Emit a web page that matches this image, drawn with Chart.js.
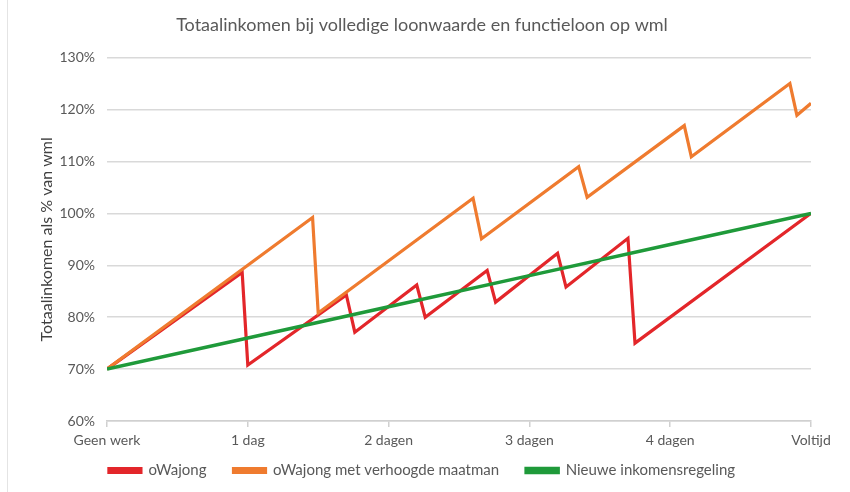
<!DOCTYPE html>
<html>
<head>
<meta charset="utf-8">
<script src="https://cdn.jsdelivr.net/npm/chart.js@4/dist/chart.umd.min.js"></script>
<style>
    html, body { margin: 0; padding: 0; background: #fff; }
    #wrap { position: relative; width: 850px; height: 492px; }
    #edge { position: absolute; left: 7px; top: 0; bottom: 0; border-left: 1px solid #e4e4e4; }
</style>
</head>
<body>
<div id="wrap">
    <div id="edge"></div>
    <canvas id="chart" width="850" height="492"></canvas>
</div>
<script>
const xTickLabels = ["Geen werk", "1 dag", "2 dagen", "3 dagen", "4 dagen", "Voltijd"];

// oWajong
const redX = [0, 0.96, 1.0, 1.70, 1.76, 2.20, 2.26, 2.70, 2.76, 3.20, 3.26, 3.70, 3.75, 5];
const redY = [70, 88.6, 70.8, 84.3, 77.1, 86.2, 80.0, 89.0, 82.9, 92.3, 85.8, 95.2, 75.0, 100];

// oWajong met verhoogde maatman
const orangeX = [0, 1.46, 1.50, 2.60, 2.66, 3.35, 3.41, 4.10, 4.15, 4.85, 4.90, 5];
const orangeY = [70, 99.2, 80.8, 102.9, 95.1, 109.0, 103.1, 116.9, 110.9, 125.0, 118.9, 121.2];

// Nieuwe inkomensregeling
const greenX = [0, 1, 2, 3, 4, 5];
const greenY = [70, 76, 82, 88, 94, 100];

function toPoints(xs, ys) {
    return xs.map((x, i) => ({ x: x, y: ys[i] }));
}

const font = "Lato, 'Open Sans', sans-serif";
const grey = "#595959";

// legend keeps wide gaps between items but takes less height
const legendHeight = {
    id: "legendHeight",
    beforeLayout(chart) {
        const lg = chart.legend;
        if (lg && !lg._short) {
            const fit = lg.fit;
            const draw = lg.draw;
            lg.fit = function() {
                fit.call(this);
                this.height = 43;
            };
            lg.draw = function() {
                const top = this.top;
                this.top = top - 13;
                draw.call(this);
                this.top = top;
            };
            lg._short = true;
        }
    }
};

new Chart(document.getElementById("chart").getContext("2d"), {
    type: "line",
    data: {
        datasets: [
            {
                label: "oWajong",
                data: toPoints(redX, redY),
                borderColor: "#e3262a",
                backgroundColor: "#e3262a",
                borderWidth: 3.2,
                pointRadius: 0,
                order: 3
            },
            {
                label: "oWajong met verhoogde maatman",
                data: toPoints(orangeX, orangeY),
                borderColor: "#ef7b2f",
                backgroundColor: "#ef7b2f",
                borderWidth: 3.2,
                pointRadius: 0,
                order: 2
            },
            {
                label: "Nieuwe inkomensregeling",
                data: toPoints(greenX, greenY),
                borderColor: "#1f9a3a",
                backgroundColor: "#1f9a3a",
                borderWidth: 3.5,
                pointRadius: 0,
                order: 1
            }
        ]
    },
    options: {
        responsive: false,
        animation: false,
        layout: { padding: { left: 33, right: 39, top: 10, bottom: 0 } },
        plugins: {
            title: {
                display: true,
                text: "Totaalinkomen bij volledige loonwaarde en functieloon op wml",
                color: grey,
                font: { family: font, size: 18, weight: "normal" },
                padding: { top: 4, bottom: 22 }
            },
            legend: {
                position: "bottom",
                labels: {
                    color: grey,
                    font: { family: font, size: 15 },
                    boxWidth: 32,
                    boxHeight: 4,
                    padding: 27,
                    sort: (a, b) => a.datasetIndex - b.datasetIndex
                }
            },
            tooltip: { enabled: false }
        },
        scales: {
            x: {
                type: "linear",
                min: 0,
                max: 5,
                afterFit: scale => { scale.height = 28; },
                ticks: {
                    stepSize: 1,
                    color: grey,
                    font: { family: font, size: 14 },
                    padding: 5,
                    maxRotation: 0,
                    callback: v => xTickLabels[v]
                },
                grid: { drawOnChartArea: false, drawTicks: true, tickLength: 6, color: "#d0d0d0", lineWidth: 1.5 },
                border: { color: "#d0d0d0", width: 1.5 }
            },
            y: {
                min: 60,
                max: 130,
                afterFit: scale => { scale.width = 74; },
                ticks: {
                    stepSize: 10,
                    color: grey,
                    font: { family: font, size: 14 },
                    padding: 12,
                    callback: v => v + "%"
                },
                title: {
                    display: true,
                    text: "Totaalinkomen als % van wml",
                    color: "#404040",
                    font: { family: font, size: 16 },
                    padding: 4
                },
                grid: { drawTicks: false, color: "#d9d9d9", lineWidth: 1.5 },
                border: { display: false }
            }
        }
    },
    plugins: [legendHeight]
});
</script>
</body>
</html>
